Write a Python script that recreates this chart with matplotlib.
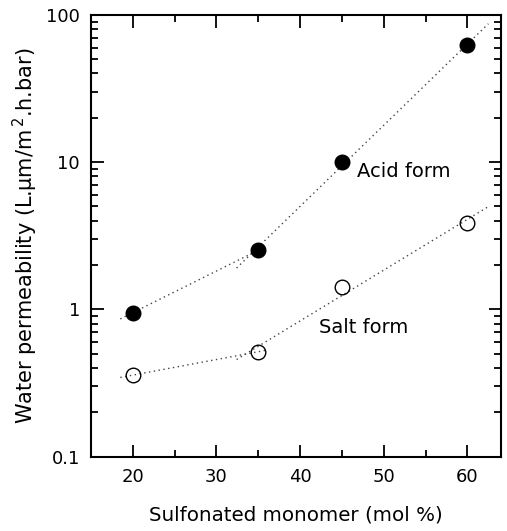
import numpy as np
import matplotlib.pyplot as plt
from matplotlib.ticker import FixedLocator, LogLocator, NullFormatter, FuncFormatter

# data
monomer = [20, 35, 45, 60]
acid_form = [0.95, 2.53, 10.0, 62.8]
salt_form = [0.357, 0.515, 1.42, 3.88]

# dotted fit segments (x ends, y ends)
acid_fit_low_x = [18.5, 36.2]
acid_fit_low_y = [0.862, 2.73]
acid_fit_high_x = [32.4, 62.5]
acid_fit_high_y = [1.91, 87.0]
salt_fit_low_x = [18.5, 36.1]
salt_fit_low_y = [0.345, 0.53]
salt_fit_high_x = [32.4, 62.5]
salt_fit_high_y = [0.457, 4.99]

fig = plt.figure(figsize=(5.07, 5.31), dpi=100)
ax = fig.add_axes([0.1795, 0.140, 0.8085, 0.832])

for fx, fy in [(acid_fit_low_x, acid_fit_low_y), (acid_fit_high_x, acid_fit_high_y),
               (salt_fit_low_x, salt_fit_low_y), (salt_fit_high_x, salt_fit_high_y)]:
    ax.plot(fx, fy, linestyle=(0, (1, 2.5)), color='#444444', linewidth=1.0)

ax.plot(monomer, acid_form, 'o', color='black', markersize=10.5, linestyle='none')
ax.plot(monomer, salt_form, 'o', markerfacecolor='none', markeredgecolor='black',
        markeredgewidth=1.0, markersize=10.5, linestyle='none')

ax.text(46.8, 8.6, 'Acid form', fontsize=14, va='center', ha='left')
ax.text(42.2, 0.75, 'Salt form', fontsize=14, va='center', ha='left')

ax.set_yscale('log')
ax.set_xlim(15, 64)
ax.set_ylim(0.1, 100)

ax.set_xticks([20, 30, 40, 50, 60])
ax.xaxis.set_minor_locator(FixedLocator([25, 35, 45, 55]))
ax.yaxis.set_major_locator(FixedLocator([0.1, 1, 10, 100]))
ax.yaxis.set_major_formatter(FuncFormatter(lambda v, p: '%g' % v))
ax.yaxis.set_minor_locator(LogLocator(base=10, subs=np.arange(2, 10)))
ax.yaxis.set_minor_formatter(NullFormatter())

ax.tick_params(which='both', direction='in', top=True, right=True, width=1.3, labelsize=13)
ax.tick_params(which='major', length=9, pad=8)
ax.tick_params(which='minor', length=5)
for s in ax.spines.values():
    s.set_linewidth(1.5)

ax.set_xlabel('Sulfonated monomer (mol %)', fontsize=14.3, labelpad=14)
ax.set_ylabel('Water permeability (L.µm/m$^{\\,2}$.h.bar)', fontsize=15, labelpad=4)

fig.savefig('out.png', dpi=100)
